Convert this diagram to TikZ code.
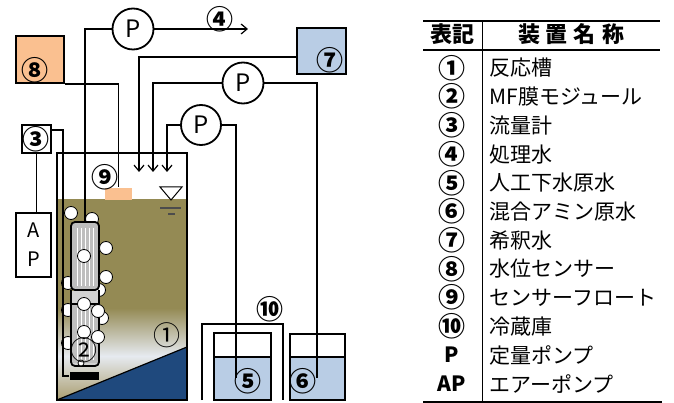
\documentclass[tikz,border=0pt]{standalone}
\usepackage{fontspec}
\setmainfont{Noto Sans CJK JP}
\usetikzlibrary{arrows.meta}
\tikzset{>={Straight Barb[length=6pt,width=10pt]}}
\definecolor{sludge}{RGB}{148,138,84}
\definecolor{sludgelight}{RGB}{230,234,240}
\definecolor{sludgelow}{RGB}{170,158,112}
\definecolor{deepblue}{RGB}{31,73,125}
\definecolor{paleblue}{RGB}{185,205,229}
\definecolor{peach}{RGB}{250,192,144}
\definecolor{modgray}{RGB}{190,190,190}
\pgfdeclareverticalshading{sludgefade}{100bp}{color(0bp)=(sludgelow); color(25bp)=(sludgelow); color(36bp)=(sludgelight); color(48bp)=(sludge); color(100bp)=(sludge)}

\begin{document}
\begin{tikzpicture}[x=1pt,y=-1pt,line width=1.2pt,
    pump/.style={circle,draw,line width=1.8pt,fill=white,minimum size=41pt,inner sep=0pt,font=\fontsize{24}{24}\selectfont},
    unit/.style={draw,line width=2pt,inner sep=0pt},
    num/.style={inner sep=0pt,font=\fontsize{27}{27}\selectfont\bfseries},
    bubble/.style={draw,fill=white,line width=0.8pt},
    cell/.style={inner sep=0pt,font=\fontsize{21}{21}\selectfont}]
    \useasboundingbox (0,0) rectangle (674,403);

    % reactor liquid and settled bottom
    \shade[shading=sludgefade] (57,200) rectangle (187,400);
    \fill[deepblue] (57,400) -- (187,347) -- (187,400) -- cycle;
    \draw[line width=1.2pt] (57,400) -- (187,347);

    % bubbles behind the module
    \foreach \x/\y in {92/219,68/283,99/290,68/310,102/318,68/343}
        \draw[bubble] (\x,\y) circle (6.5pt);

    % MF membrane module (two elements)
    \fill[modgray,rounded corners=4pt] (71,222) rectangle (99,290);
    \foreach \x in {77,81,85,89,93}
        \draw[white,line width=1pt] (\x,228) -- (\x,286);
    \fill[modgray!70,rounded corners=4pt] (71,290) rectangle (99,366);
    \fill[modgray] (72,304) rectangle (98,363);
    \foreach \x in {77,81,85,89,93}
        \draw[white,line width=1pt] (\x,308) -- (\x,360);
    \node[draw,line width=1.8pt,rounded corners=4pt,minimum width=28pt,minimum height=68pt,inner sep=0pt] (mod) at (85,256) {};
    \draw[line width=1.8pt,rounded corners=4pt] (71,290) -- (71,366) -- (99,366) -- (99,290);
    \draw[line width=1.2pt] (72,304) -- (98,304);

    % bubbles in front
    \foreach \x/\y in {71/213,84/256,106/248,106/277,84/304,98/311,84/332,98/337}
        \draw[bubble] (\x,\y) circle (6.5pt);
    \draw[bubble] (81,363) circle (3pt);
    \node[num,font=\fontsize{27}{27}\selectfont] (l2) at (84,350) {②};

    % air diffuser
    \node[fill=black,minimum width=29pt,minimum height=8pt,inner sep=0pt] (diff) at (84.5,376) {};

    % reactor tank
    \draw[line width=2.5pt] (57,153) rectangle (187,400);
    \node[num,font=\fontsize{27}{27}\selectfont] (l1) at (167,335) {①};

    % water level mark
    \draw[fill=white,line width=1pt] (160,187) -- (182,187) -- (171,200) -- cycle;
    \draw[black!70,line width=1.2pt] (160,208) -- (181,208);
    \draw[black!70,line width=1.2pt] (168,214) -- (175,214);

    % sensor float and level sensor
    \node[fill=peach,minimum width=27pt,minimum height=12pt,inner sep=0pt] (float) at (118.5,194) {};
    \node[num] (l9) at (105,177) {⑨};
    \node[unit,fill=peach,minimum width=48pt,minimum height=47pt] (sensor) at (40,59.5) {};
    \node[num] (l8) at (35,70) {⑧};
    \draw (sensor.south east) -| (float.north);

    % dilution water
    \node[unit,fill=paleblue,minimum width=49pt,minimum height=46pt] (dil) at (321.5,51) {};
    \node[num] (l7) at (330,60) {⑦};

    % flow meter and air pump
    \node[unit,minimum width=29pt,minimum height=28pt,num] (fm) at (36.5,139) {③};
    \node[unit,minimum width=35pt,minimum height=64pt,align=center,font=\fontsize{20}{29}\selectfont] (ap) at (33.5,245) {A\\P};
    \draw (fm.south) -- (fm.south |- ap.north);
    \coordinate (airdown) at (63,376);
    \draw ([yshift=-6pt]fm.north east) -| (airdown) -- (diff.west);

    % feed tanks in the refrigerator
    \draw[line width=2pt] (202,400) |- (283,324) -- (283,400);
    \node[num] (l10) at (270,309) {⑩};
    \draw[fill=paleblue,line width=2pt] (214,357) rectangle (271,400);
    \draw[line width=2pt] (214,357) |- (271,333) -- (271,357);
    \node[num] (l5) at (248,381) {⑤};
    \draw[fill=paleblue,line width=2pt] (290,357) rectangle (345,400);
    \draw[line width=2pt] (290,357) |- (345,334) -- (345,357);
    \node[num] (l6) at (303,381) {⑥};

    % pumps
    \node[pump] (p1) at (133,29) {P};
    \node[pump] (p2) at (243,83) {P};
    \node[pump,minimum size=40pt] (p3) at (201,125) {P};
    \coordinate (eff) at (248,29);
    \coordinate (in1) at (139,172);
    \coordinate (in2) at (153,172);
    \coordinate (in3) at (167,172);
    \coordinate (out5) at (236,378);
    \coordinate (out6) at (317,378);

    % connections
    \draw (p1.west) -| (mod.north);
    \draw[->] (p1.east) -- (eff);
    \node[num] (l4) at (220,19) {④};
    \draw[->] ([yshift=-6pt]dil.west) -| (in1);
    \draw[->] (p2.west) -| (in2);
    \draw (p2.east) -| (out6);
    \draw[->] (p3.west) -| (in3);
    \draw (p3.east) -| (out5);

    % legend table
    \draw[line width=2pt] (423,21) -- (660,21);
    \draw[line width=1.5pt] (423,50) -- (660,50);
    \draw[line width=2pt] (423,401.5) -- (662,401.5);
    \draw[line width=1.5pt] (482.5,21) -- (482.5,403);
    \node[cell,font=\fontsize{22}{22}\selectfont\bfseries] (head1) at (452,34) {表記};
    \node[cell,font=\fontsize{22}{22}\selectfont\bfseries] (head2) at (571,34) {装\hspace{6pt}置\hspace{6pt}名\hspace{6pt}称};
    \foreach \s/\n [count=\i] in {①/反応槽,②/MF膜モジュール,③/流量計,④/処理水,⑤/人工下水原水,⑥/混合アミン原水,⑦/希釈水,⑧/水位センサー,⑨/センサーフロート,⑩/冷蔵庫}{
        \node[num] (sym\i) at (452,{39.3+28.7*\i}) {\s};
        \node[cell,anchor=west] (name\i) at (489,{39.3+28.7*\i}) {\n};
    }
    \foreach \s/\n [count=\i from 11] in {P/定量ポンプ,AP/エアーポンプ}{
        \node[cell,font=\fontsize{21}{21}\selectfont\bfseries] (sym\i) at (452,{39.3+28.7*\i}) {\s};
        \node[cell,anchor=west] (name\i) at (489,{39.3+28.7*\i}) {\n};
    }
\end{tikzpicture}
\end{document}
